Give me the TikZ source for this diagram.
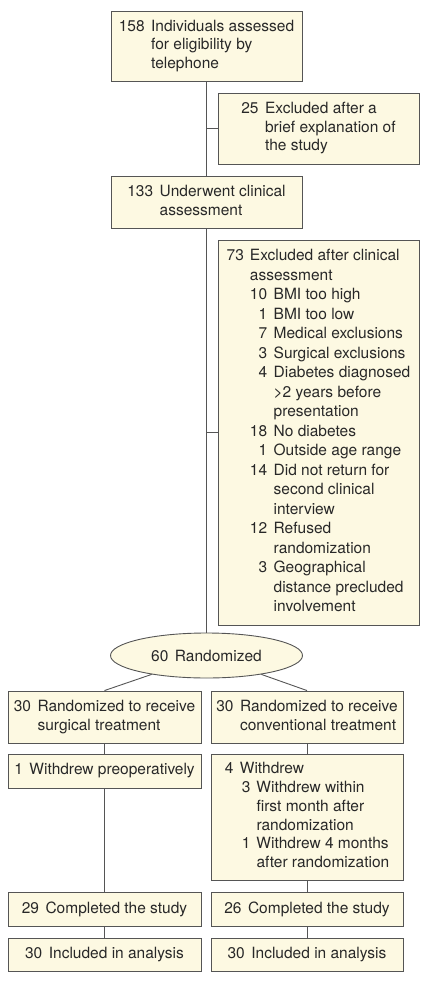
\documentclass[tikz,border=0pt]{standalone}
\usepackage{fontspec}
\setmainfont{TeX Gyre Heros}
\usetikzlibrary{shapes.geometric}
\definecolor{boxfill}{RGB}{253,249,226}
\definecolor{boxline}{RGB}{85,85,85}
\definecolor{txt}{RGB}{40,40,40}
\newcommand{\fsz}{\fontsize{15.5}{18.7}\selectfont}
\newcommand{\fszb}{\fontsize{15.5}{19.5}\selectfont}
\newcommand{\gp}{\hspace{6.5pt}}
\tikzset{
  box/.style={draw=boxline, fill=boxfill, line width=0.9pt, rectangle, inner sep=0pt, text=txt, font=\fsz},
  ovalbox/.style={draw=boxline, fill=boxfill, line width=0.9pt, ellipse, inner sep=0pt, text=txt, font=\fsz},
  conn/.style={draw=boxline, line width=0.9pt}
}
\begin{document}
\begin{tikzpicture}[x=1pt,y=-1pt]
\useasboundingbox (0,0) rectangle (420,981);
\node[box, minimum width=191pt, minimum height=70pt] (b1) at (206.5,46)
  {\begin{tabular}{@{}r@{\gp}l@{}}158 & Individuals assessed\\ & for eligibility by\\ & telephone\end{tabular}};
\node[box, minimum width=201pt, minimum height=71pt] (b2) at (318.5,128.5)
  {\begin{tabular}{@{}r@{\gp}l@{}}25 & Excluded after a\\ & brief explanation of\\ & the study\end{tabular}};
\node[box, minimum width=191pt, minimum height=52pt] (b3) at (206.5,202)
  {\begin{tabular}{@{}r@{\gp}l@{}}133 & Underwent clinical\\ & assessment\end{tabular}};
\node[box, font=\fszb, minimum width=201pt, minimum height=385pt] (b4) at (318.5,432.5)
  {\begin{tabular}{@{}r@{\hspace{6pt}}r@{\gp}l@{}}
73 & \multicolumn{2}{@{}l@{}}{Excluded after clinical}\\
 & \multicolumn{2}{@{}l@{}}{assessment}\\
 & 10 & BMI too high\\
 & 1 & BMI too low\\
 & 7 & Medical exclusions\\
 & 3 & Surgical exclusions\\
 & 4 & Diabetes diagnosed\\
 & & >2 years before\\
 & & presentation\\
 & 18 & No diabetes\\
 & 1 & Outside age range\\
 & 14 & Did not return for\\
 & & second clinical\\
 & & interview\\
 & 12 & Refused\\
 & & randomization\\
 & 3 & Geographical\\
 & & distance precluded\\
 & & involvement
\end{tabular}};
\node[ovalbox, minimum width=192pt, minimum height=45pt] (rand) at (206.5,655.5) {60\gp Randomized};
\node[box, minimum width=193pt, minimum height=52pt] (L1) at (104.5,717)
  {\begin{tabular}{@{}r@{\gp}l@{}}30 & Randomized to receive\\ & surgical treatment\end{tabular}};
\node[box, minimum width=192pt, minimum height=52pt] (R1) at (307,717)
  {\begin{tabular}{@{}r@{\gp}l@{}}30 & Randomized to receive\\ & conventional treatment\end{tabular}};
\node[box, minimum width=193pt, minimum height=34pt] (L2) at (104.5,771) {1\gp Withdrew preoperatively};
\node[box, minimum width=192pt, minimum height=126pt] (R2) at (307,817)
  {\begin{tabular}{@{}r@{\gp}r@{\hspace{6pt}}l@{}}
4 & \multicolumn{2}{@{}l@{}}{Withdrew}\\
 & \hspace{2pt}3 & Withdrew within\\
 & & first month after\\
 & & randomization\\
 & 1 & Withdrew 4 months\\
 & & after randomization
\end{tabular}};
\node[box, minimum width=193pt, minimum height=34pt] (L3) at (104.5,909) {29\gp Completed the study};
\node[box, minimum width=192pt, minimum height=34pt] (R3) at (307,909) {26\gp Completed the study};
\node[box, minimum width=193pt, minimum height=33pt] (L4) at (104.5,954.5) {30\gp Included in analysis};
\node[box, minimum width=192pt, minimum height=33pt] (R4) at (307,954.5) {30\gp Included in analysis};
\draw[conn] (b1.south) -- (b3.north);
\draw[conn] (b3.south) -- (rand.north);
\draw[conn] (b2.west) -- (b2.west -| b1.south);
\draw[conn] (b4.west) -- (b4.west -| b1.south);
\draw[conn] (rand.199) -- (L1.north);
\draw[conn] (rand.341) -- (R1.north);
\draw[conn] (L1.south) -- (L2.north);
\draw[conn] (L2.south) -- (L3.north);
\draw[conn] (L3.south) -- (L4.north);
\draw[conn] (R1.south) -- (R2.north);
\draw[conn] (R2.south) -- (R3.north);
\draw[conn] (R3.south) -- (R4.north);
\end{tikzpicture}
\end{document}
